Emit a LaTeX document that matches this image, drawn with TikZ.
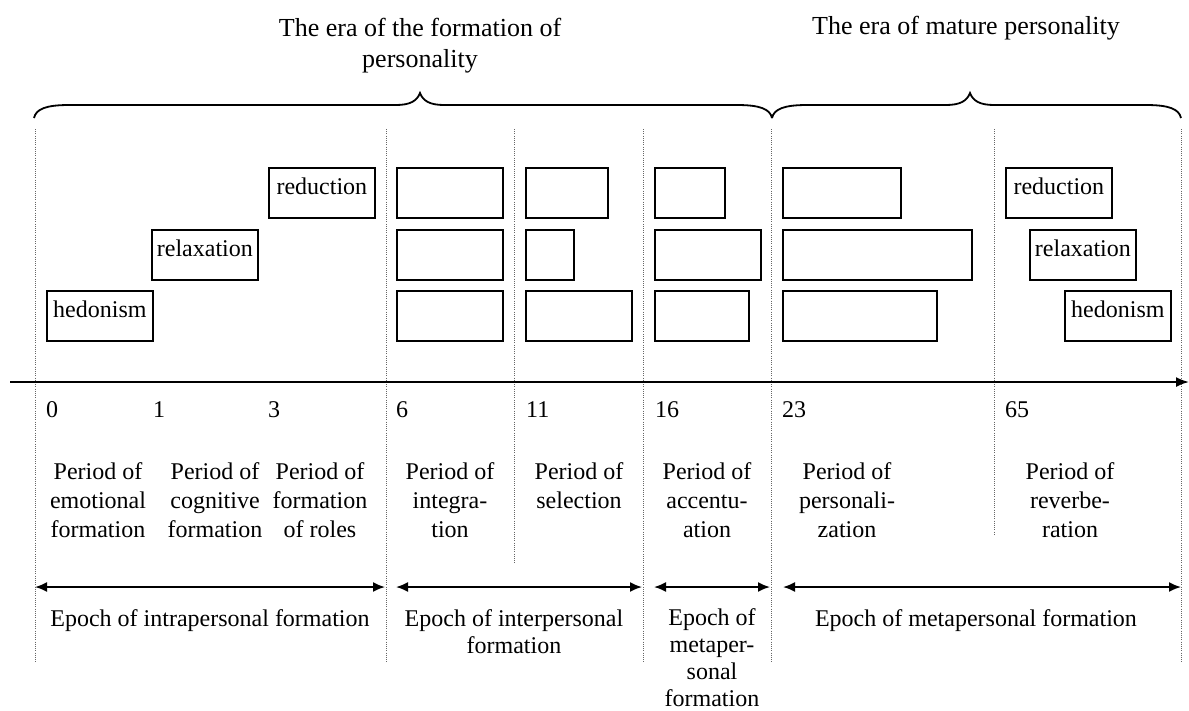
\documentclass[tikz,border=0pt]{standalone}
\usepackage{fontspec}
\setmainfont{Liberation Serif}
\usetikzlibrary{arrows.meta,calc}
\begin{document}
\begin{tikzpicture}[x=1pt,y=-1pt,
  box/.style={draw, line width=1.8pt, anchor=north west, inner sep=0pt,
    minimum height=50pt, text height=17pt, text depth=14pt,
    font=\fontsize{24}{29}\selectfont},
  vline/.style={line width=0.8pt, gray!80!black, dash pattern=on 1pt off 1.2pt},
  brc/.style={line width=1.8pt},
  axis/.style={line width=1.8pt, -{Latex[length=13pt,width=10pt]}},
  span/.style={line width=1.8pt, {Latex[length=12pt,width=10pt]}-{Latex[length=12pt,width=10pt]}},
  num/.style={anchor=base west, inner sep=0pt, font=\fontsize{24}{29}\selectfont},
  period/.style={anchor=base, inner sep=0pt, align=center, font=\fontsize{24}{29}\selectfont},
  epoch/.style={anchor=base, inner sep=0pt, align=center, font=\fontsize{24}{27}\selectfont},
  era/.style={anchor=base, inner sep=0pt, align=center, font=\fontsize{26}{31}\selectfont}
]
\useasboundingbox (0,0) rectangle (1189,710);

% titles (base anchor = baseline of last line)
\node[era] (era1) at (420,67) {The era of the formation of\\personality};
\node[era] (era2) at (966,34) {The era of mature personality};

% braces
\coordinate (b1a) at (34,118);
\coordinate (b1t) at (420,93);
\coordinate (b1b) at (772,118);
\coordinate (b2t) at (970,93);
\coordinate (b2b) at (1181,118);
\draw[brc] (b1a) .. controls ($(b1a)+(2,-9)$) and ($(b1a)+(12,-13)$) .. ($(b1a)+(35,-13)$)
  -- ($(b1t)+(-24,12)$) .. controls ($(b1t)+(-10,12)$) and ($(b1t)+(-3,8)$) .. (b1t)
  .. controls ($(b1t)+(3,8)$) and ($(b1t)+(10,12)$) .. ($(b1t)+(24,12)$)
  -- ($(b1b)+(-35,-13)$) .. controls ($(b1b)+(-12,-13)$) and ($(b1b)+(-2,-9)$) .. (b1b);
\draw[brc] (b1b) .. controls ($(b1b)+(2,-9)$) and ($(b1b)+(12,-13)$) .. ($(b1b)+(35,-13)$)
  -- ($(b2t)+(-24,12)$) .. controls ($(b2t)+(-10,12)$) and ($(b2t)+(-3,8)$) .. (b2t)
  .. controls ($(b2t)+(3,8)$) and ($(b2t)+(10,12)$) .. ($(b2t)+(24,12)$)
  -- ($(b2b)+(-35,-13)$) .. controls ($(b2b)+(-12,-13)$) and ($(b2b)+(-2,-9)$) .. (b2b);

% vertical dotted lines
\foreach \n/\x/\yb in {v0/35/662, v6/386/662, v11/514/563, v16/643/662, v23/771/662, v65/994/535, vR/1181/662}{
  \coordinate (\n t) at (\x,129);
  \coordinate (\n b) at (\x,\yb);
  \draw[vline] (\n t) -- (\n b);
}

% boxes
\node[box, minimum width=106pt] (red1) at (268,167) {reduction};
\node[box, minimum width=106pt] (rel1) at (151,229) {relaxation};
\node[box, minimum width=106pt] (hed1) at (46,290) {hedonism};

\node[box, minimum width=106pt] (c6a) at (396,167) {};
\node[box, minimum width=106pt] (c6b) at (396,229) {};
\node[box, minimum width=106pt] (c6c) at (396,290) {};

\node[box, minimum width=82pt] (c11a) at (525,167) {};
\node[box, minimum width=48pt] (c11b) at (525,229) {};
\node[box, minimum width=106pt] (c11c) at (525,290) {};

\node[box, minimum width=70pt] (c16a) at (654,167) {};
\node[box, minimum width=106pt] (c16b) at (654,229) {};
\node[box, minimum width=94pt] (c16c) at (654,290) {};

\node[box, minimum width=118pt] (c23a) at (782,167) {};
\node[box, minimum width=189pt] (c23b) at (782,229) {};
\node[box, minimum width=154pt] (c23c) at (782,290) {};

\node[box, minimum width=106pt] (red2) at (1005,167) {reduction};
\node[box, minimum width=106pt] (rel2) at (1029,229) {relaxation};
\node[box, minimum width=106pt] (hed2) at (1064,290) {hedonism};

% axis
\coordinate (ax0) at (10,382);
\coordinate (ax1) at (1189,382);
\draw[axis] (ax0) -- (ax1);

% ages
\node[num] (n0) at (46,417) {0};
\node[num] (n1) at (153,417) {1};
\node[num] (n3) at (268,417) {3};
\node[num] (n6) at (396,417) {6};
\node[num] (n11) at (526,417) {11};
\node[num] (n16) at (655,417) {16};
\node[num] (n23) at (782,417) {23};
\node[num] (n65) at (1005,417) {65};

% periods (base anchor = baseline of last line)
\node[period] (p1) at (98,537) {Period of\\emotional\\formation};
\node[period] (p2) at (215,537) {Period of\\cognitive\\formation};
\node[period] (p3) at (320,537) {Period of\\formation\\of roles};
\node[period] (p4) at (450,537) {Period of\\integra-\\tion};
\node[period] (p5) at (579,508) {Period of\\selection};
\node[period] (p6) at (707,537) {Period of\\accentu-\\ation};
\node[period] (p7) at (847,537) {Period of\\personali-\\zation};
\node[period] (p8) at (1070,537) {Period of\\reverbe-\\ration};

% epoch spans
\coordinate (e1a) at (35,587);  \coordinate (e1b) at (385,587);
\coordinate (e2a) at (396,587); \coordinate (e2b) at (642,587);
\coordinate (e3a) at (654,587); \coordinate (e3b) at (770,587);
\coordinate (e4a) at (783,587); \coordinate (e4b) at (1181,587);
\draw[span] (e1a) -- (e1b);
\draw[span] (e2a) -- (e2b);
\draw[span] (e3a) -- (e3b);
\draw[span] (e4a) -- (e4b);

\node[epoch] (ep1) at (210,626) {Epoch of intrapersonal formation};
\node[epoch] (ep2) at (514,653) {Epoch of interpersonal\\formation};
\node[epoch] (ep3) at (712,706) {Epoch of\\metaper-\\sonal\\formation};
\node[epoch] (ep4) at (976,626) {Epoch of metapersonal formation};
\end{tikzpicture}
\end{document}
